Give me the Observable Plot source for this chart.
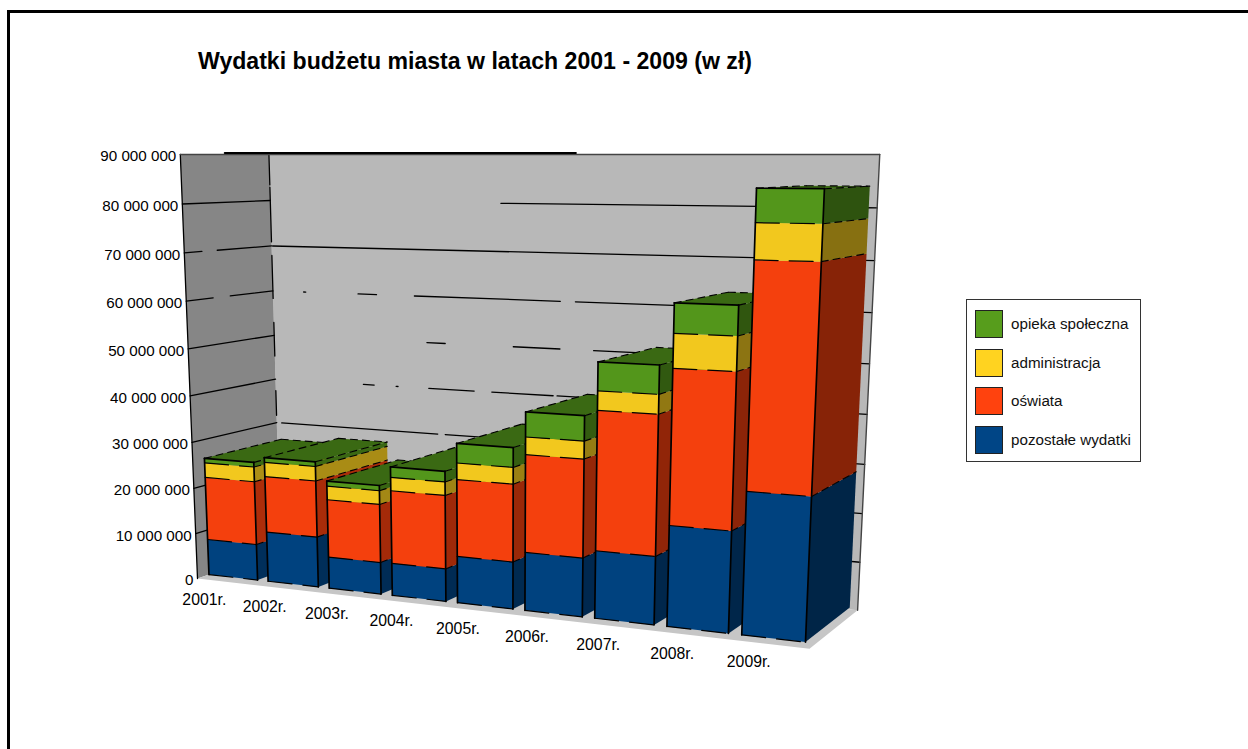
<!DOCTYPE html>
<html lang="pl">
<head>
<meta charset="utf-8">
<script src="https://cdn.jsdelivr.net/npm/d3@7"></script>
<script src="https://cdn.jsdelivr.net/npm/@observablehq/plot@0.6"></script>
<style>
html,body{margin:0;padding:0;background:#fff;width:1248px;height:749px;overflow:hidden;font-family:"Liberation Sans",Arial,sans-serif}
#frame{position:absolute;left:7px;top:10px;right:-10px;bottom:-10px;border-left:3px solid #000;border-top:3px solid #000}
#title{position:absolute;left:198px;top:48px;font-size:23.1px;font-weight:bold;color:#000;white-space:nowrap}
#legend{position:absolute;left:966px;top:299px;width:173px;height:161px;border:1px solid #333;background:#fff;box-sizing:content-box}
.item{position:absolute;left:8px;font-size:15.2px;color:#111;white-space:nowrap;line-height:28px;height:28px}
.item i{display:inline-block;position:absolute;left:0;top:0;width:26px;height:26px;border:1px solid #222}
.item span{position:absolute;left:36px;top:0}
#chart{position:absolute;left:0;top:0}
</style>
</head>
<body>
<div id="frame"></div>
<div id="chart"></div>
<div id="title">Wydatki budżetu miasta w latach 2001 - 2009 (w zł)</div>
<div id="legend"></div>
<script>
// ---- data (millions of zł) ----
const years = ["2001r.","2002r.","2003r.","2004r.","2005r.","2006r.","2007r.","2008r.","2009r."];
const pozostale     = [7.9,10.9,6.8,6.9,9.8,12.05,13.8,20.2,28.1];
const oswiata       = [13.8,12.1,12.4,15.4,16.0,19.9,27.9,30.4,43.1];
const administracja = [3.2,3.1,2.9,2.8,3.4,3.55,3.8,6.6,6.7];
const opieka        = [1.0,1.0,1.1,2.2,4.0,5.0,5.6,5.7,6.15];
const seriesNames   = ["pozostałe wydatki","oświata","administracja","opieka społeczna"];
const seriesColors  = ["#004586","#ff420e","#ffd320","#579d1c"];
const frontColors   = ["#00427f","#f4400d","#f2c81e","#53961b"];
const tickValues    = [0,10,20,30,40,50,60,70,80,90];
const tickLabels    = ["0","10 000 000","20 000 000","30 000 000","40 000 000","50 000 000","60 000 000","70 000 000","80 000 000","90 000 000"];
// visible stretches of the broken gridlines: [value, from, to] along the wall
const backGrid = [[10,0,1],[20,0,1],[30,.0097,.3035],[30,.317,1],[40,.168,.188],[40,.2285,.232],[40,.288,.369],[40,.4,.5056],[40,.5123,1],
  [50,.2854,.3181],[50,.4372,.5165],[50,.5727,1],[60,.059,.063],[60,.161,.195],[60,.2637,.5165],[60,.5416,1],[70,.002,1],[80,.4157,.828],[80,.985,1]];
const sideGrid = [[10,0,1],[20,0,1],[30,0,1],[40,0,1],[50,0,1],[60,0,.295],[60,.49,1],[70,0,.19],[70,.36,1],[80,0,1]];
const dividerParts = [[83.4,90],[70.9,82.9],[58.3,67.9],[45.3,52.9],[31.7,37.4]];

// ---- box perspective: u along years, v up the value axis, w into the depth ----
const O=[197,578], VX=[-3500,154], VY=[498,8000], VZ=[1428,154];
const A=(197-809)/(809-VX[0]), B=(578-154)/(154-VY[1]), C=(197-280)/(280-VZ[0]);
function proj(u,v,w){
  const d=1+u*A+v*B+w*C;
  return {px:(O[0]+u*A*VX[0]+v*B*VY[0]+w*C*VZ[0])/d, py:(O[1]+u*A*VX[1]+v*B*VY[1]+w*C*VZ[1])/d};
}
const V=val=>val/90;
const barU=i=>i*.1116, barW=.092, w0=.13, w1=1.05;

const polys=[];
let pid=0;
function poly(arr,pts,color){const id=pid++;pts.forEach(p=>{const q=proj(...p);arr.push({id,color,...q});});}
function seg(arr,a,b){poly(arr,[a,b],"#000");}

// walls and floor
poly(polys,[[0,1,1],[1,1,1],[1,0,1],[0,0,1]],"#b8b8b8");
poly(polys,[[0,1,0],[0,1,1],[0,0,1],[0,0,0]],"#868686");
poly(polys,[[0,0,0],[1,0,0],[1,0,1],[0,0,1]],"#c6c6c6");

const gridRows=[];
backGrid.forEach(([val,a,b])=>seg(gridRows,[a,V(val),1],[b,V(val),1]));
sideGrid.forEach(([val,a,b])=>seg(gridRows,[0,V(val),a],[0,V(val),b]));
dividerParts.forEach(([a,b])=>seg(gridRows,[0,V(a),1],[0,V(b),1]));
seg(gridRows,[0,0,0],[0,1,0]);
const rightEdge=[]; seg(rightEdge,[1,0,1],[1,1,1]); seg(rightEdge,[0,1,0],[1,1,1]);
const topThick=[]; seg(topThick,[-.085,1,1],[.54,1,1]);

const lineOpts=(extra)=>({x:"px",y:"py",z:"id",curve:"linear",...extra});

// bars, painted from the first year to the last so each overlaps the one before
const stacks=[pozostale,oswiata,administracja,opieka];
const perBar=[];
years.forEach((y,i)=>{
  const faces=[], barSolid=[], barDash=[], barDot=[];
  const u0=barU(i),u1=u0+barW;
  const shade=.68-.15*i/8;
  let base=0;
  const layers=stacks.map((s,k)=>{const l={k,a:V(base),b:V(base+s[i])};base+=s[i];return l;});
  layers.forEach(({k,a,b})=>{
    const c=d3.rgb(seriesColors[k]);
    const side=d3.rgb(c.r*shade,c.g*shade,c.b*shade).formatHex();
    poly(faces,[[u1,a,w0],[u1,a,w1],[u1,b,w1],[u1,b,w0]],side);
  });
  const g=d3.rgb(seriesColors[3]);
  const t=layers[3].b;
  poly(faces,[[u0,t,w0],[u1,t,w0],[u1,t,w1],[u0,t,w1]],d3.rgb(g.r*.67,g.g*.67,g.b*.67).formatHex());
  layers.forEach(({k,a,b})=>poly(faces,[[u0,a,w0],[u1,a,w0],[u1,b,w0],[u0,b,w0]],frontColors[k]));
  poly(barSolid,[[u0,0,w0],[u0,t,w0]],"#000");
  poly(barSolid,[[u1,0,w0],[u1,t,w0]],"#000");
  poly(barSolid,[[u0,t,w0],[u1,t,w0]],"#000");
  layers.forEach(({a})=>{poly(barDash,[[u0,a,w0],[u1,a,w0]],"#000");});
  layers.forEach(({b})=>{poly(barDot,[[u1,b,w0],[u1,b,w1]],"#000");});
  poly(barDot,[[u0,t,w0],[u0,t,w1]],"#000");
  poly(barDot,[[u0,t,w1],[u1,t,w1]],"#000");
  perBar.push(Plot.line(faces,lineOpts({fill:"color",stroke:"none",curve:"linear-closed"})));
  perBar.push(Plot.line(barDash,lineOpts({stroke:"#000",strokeWidth:1.2,strokeDasharray:"24 11"})));
  perBar.push(Plot.line(barDot,lineOpts({stroke:"#000",strokeWidth:1.1,strokeDasharray:"7 5"})));
  perBar.push(Plot.line(barSolid,lineOpts({stroke:"#000",strokeWidth:1.7})));
});

const tickRows=tickValues.map((val,i)=>({label:tickLabels[i],...proj(0,V(val),0)}));
const yearRows=years.map((label,i)=>({label,...proj(barU(i)+barW/2,0,0)}));

const plot=Plot.plot({
  width:1248,height:749,margin:0,
  x:{domain:[0,1248],range:[0,1248],axis:null},
  y:{domain:[0,749],range:[0,749],axis:null},
  color:{type:"identity"},
  marks:[
    Plot.line(polys,lineOpts({fill:"color",stroke:"none",curve:"linear-closed"})),
    Plot.line(gridRows,lineOpts({stroke:"#000",strokeWidth:1.3})),
    Plot.line(rightEdge,lineOpts({stroke:"#444",strokeWidth:1.4})),
    Plot.line(topThick,lineOpts({stroke:"#000",strokeWidth:2,dy:-1.5})),
    ...perBar,
    Plot.text(tickRows,{x:"px",y:"py",text:"label",textAnchor:"end",dx:-4,dy:2,fontSize:15.2,fill:"#000",fontFamily:"Liberation Sans"}),
    Plot.text(yearRows,{x:"px",y:"py",text:"label",dx:-17.5,dy:18.5,fontSize:15.8,fill:"#000",fontFamily:"Liberation Sans"})
  ]
});
document.getElementById("chart").append(plot);

const legend=document.getElementById("legend");
[3,2,1,0].forEach((k,row)=>{
  const d=document.createElement("div");
  d.className="item";
  d.style.top=(10+row*38.5)+"px";
  d.innerHTML=`<i style="background:${seriesColors[k]}"></i><span>${seriesNames[k]}</span>`;
  legend.append(d);
});
</script>
</body>
</html>
